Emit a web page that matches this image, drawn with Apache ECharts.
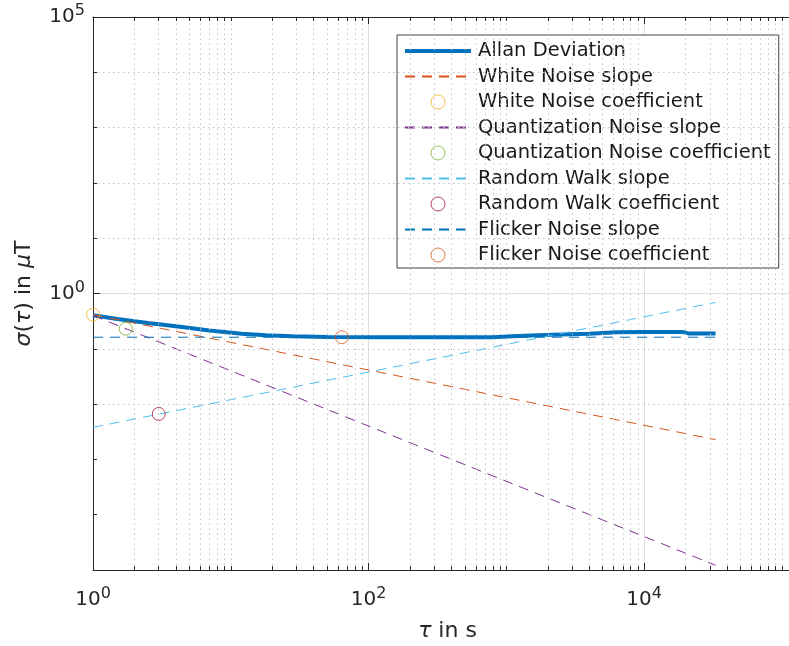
<!DOCTYPE html>
<html><head><meta charset="utf-8">
<script src="https://cdn.jsdelivr.net/npm/echarts@6/dist/echarts.min.js"></script>
<style>html,body{margin:0;padding:0;background:#fff;}#c{width:789px;height:646px;}</style>
</head><body><div id="c"></div>
<script>
const FONT = 'DejaVu Sans';
// Allan deviation curve
const tau = [1, 1.5, 2.5, 4, 7, 12, 18, 28, 50, 120, 400, 800, 1100, 1700, 2500, 4000, 6300, 10000, 19000, 21000, 33000];
const allanDev = [0.405, 0.345, 0.292, 0.256, 0.215, 0.187, 0.176, 0.168, 0.163, 0.161, 0.161, 0.162, 0.168, 0.176, 0.182, 0.188, 0.2, 0.202, 0.202, 0.19, 0.19];
// slope lines (endpoints)
const slopeTau = [1, 33000];
const whiteSlope = [0.413, 0.00228];
const quantSlope = [0.40, 1.22e-5];
const rwSlope = [0.0038, 0.689];
const flickerSlope = [0.162, 0.162];
// coefficients [tau, value]
const whiteCoef = [1, 0.413];
const quantCoef = [1.73, 0.2307];
const rwCoef = [3, 0.00664];
const flickerCoef = [64, 0.162];
// tick labels (exponents)
const xTickExp = [0, 2, 4];
const yTickExp = [0, 5];
const xMin = 1, xMax = 1.4e5, yMin = 1e-5, yMax = 1e5;

const C = {
  blue: '#0072BD', orange: '#D95319', yellow: '#EDB120', purple: '#7E2F8E',
  green: '#77AC30', cyan: '#4DBEEE', red: '#A2142F'
};
const AX = '#262626';

const zip = (a, b) => a.map((v, i) => [v, b[i]]);

// minor gridlines / ticks
const xMinor = [];
for (let k = 0; k <= 5; k++) {
  for (let m = 1; m <= 9; m++) {
    if (m === 1 && k % 2 === 0) continue;
    const v = m * Math.pow(10, k);
    if (v < xMax) xMinor.push(v);
  }
}
const yMinorExp = [-4, -3, -2, -1, 1, 2, 3, 4];
const pxDecY = 553 / 10, pxDecX = 709 / Math.log10(xMax);
const tl = 4;
const gridMinor = [];
xMinor.forEach(v => gridMinor.push({ xAxis: v }));
yMinorExp.forEach(e => gridMinor.push({ yAxis: Math.pow(10, e) }));
const tickMinor = [];
xMinor.forEach(v => {
  tickMinor.push([{ coord: [v, yMin] }, { coord: [v, Math.pow(10, -5 + tl / pxDecY)] }]);
  tickMinor.push([{ coord: [v, Math.pow(10, 5 - tl / pxDecY)] }, { coord: [v, yMax] }]);
});
yMinorExp.forEach(e => {
  tickMinor.push([{ coord: [xMin, Math.pow(10, e)] }, { coord: [Math.pow(10, tl / pxDecX), Math.pow(10, e)] }]);
});

const labelFmt = (list) => (v) => {
  const e = Math.log10(v), r = Math.round(e);
  if (Math.abs(e - r) > 1e-6 || list.indexOf(r) < 0) return '';
  return '{b|10}{s|' + r + '}';
};
const rich = {
  b: { fontSize: 20, fontFamily: FONT, color: AX },
  s: { fontSize: 16, fontFamily: FONT, color: AX, padding: [0, 0, 12, 0] }
};

const dashed = (color) => ({ color, width: 1, type: [10, 7] });
const circ = (color) => ({ color: 'transparent', borderColor: color, borderWidth: 1 });
const lineItem = (name, width) => ({ name, itemStyle: { opacity: 0, color: 'transparent', borderWidth: 0 },
  lineStyle: width ? { width } : undefined });

const chart = echarts.init(document.getElementById('c'));
chart.setOption({
  animation: false,
  backgroundColor: '#fff',
  grid: { left: 93, top: 17, width: 709, height: 553, containLabel: false, outerBoundsMode: 'none' },
  xAxis: [{
    type: 'log', logBase: 10, min: xMin, max: xMax, interval: 2,
    position: 'bottom',
    name: '{g|τ} in s', nameLocation: 'middle', nameGap: 50,
    nameTextStyle: { fontFamily: FONT, fontSize: 22, color: AX,
      rich: { g: { fontFamily: FONT, fontSize: 22, fontStyle: 'italic', color: AX } } },
    axisLine: { show: true, lineStyle: { color: AX, width: 1 } },
    axisTick: { show: true, inside: true, length: 7, lineStyle: { color: AX } },
    axisLabel: { formatter: labelFmt(xTickExp), rich, margin: 16 },
    splitLine: { show: true, lineStyle: { color: '#dedede', width: 1 } }
  }, {
    type: 'log', logBase: 10, min: xMin, max: xMax, interval: 2,
    position: 'top',
    axisLine: { show: true, lineStyle: { color: AX, width: 1 } },
    axisTick: { show: true, inside: true, length: 7, lineStyle: { color: AX } },
    axisLabel: { show: false },
    splitLine: { show: false }
  }],
  yAxis: {
    type: 'log', logBase: 10, min: yMin, max: yMax, interval: 5,
    name: '{g|σ}({g|τ}) in {g|μ}T', nameLocation: 'middle', nameGap: 58,
    nameTextStyle: { fontFamily: FONT, fontSize: 22, color: AX,
      rich: { g: { fontFamily: FONT, fontSize: 22, fontStyle: 'italic', color: AX } } },
    axisLine: { show: true, lineStyle: { color: AX, width: 1 } },
    axisTick: { show: true, inside: true, length: 7, lineStyle: { color: AX } },
    axisLabel: { formatter: labelFmt(yTickExp), rich, margin: 8 },
    splitLine: { show: true, lineStyle: { color: '#dedede', width: 1 } }
  },
  legend: {
    orient: 'vertical', left: 397, top: 35,
    padding: [6, 8, 3, 6],
    itemWidth: 66, itemHeight: 14, itemGap: 5.5,
    backgroundColor: '#fff', borderColor: '#404040', borderWidth: 1,
    textStyle: { fontFamily: FONT, fontSize: 19.5, color: '#1a1a1a', lineHeight: 20, padding: [0, 0, 0, 2] },
    data: [
      lineItem('Allan Deviation', 4), lineItem('White Noise slope'),
      { name: 'White Noise coefficient', itemStyle: circ(C.yellow) },
      lineItem('Quantization Noise slope'),
      { name: 'Quantization Noise coefficient', itemStyle: circ(C.green) },
      lineItem('Random Walk slope'),
      { name: 'Random Walk coefficient', itemStyle: circ(C.red) },
      lineItem('Flicker Noise slope'),
      { name: 'Flicker Noise coefficient', itemStyle: circ(C.orange) }
    ]
  },
  series: [
    { type: 'line', name: '_grid', data: [], z: 1, silent: true,
      markLine: { silent: true, symbol: ['none', 'none'], label: { show: false },
        lineStyle: { color: '#c4c4c4', width: 1, type: [1.5, 3.5] }, data: gridMinor } },
    { type: 'line', name: '_ticks', data: [], z: 1, silent: true,
      markLine: { silent: true, symbol: ['none', 'none'], label: { show: false },
        lineStyle: { color: AX, width: 1, type: 'solid' }, data: tickMinor } },
    { type: 'line', name: 'Allan Deviation', data: zip(tau, allanDev), symbol: 'none', z: 3,
      lineStyle: { color: C.blue, width: 4 }, itemStyle: { color: C.blue } },
    { type: 'line', name: 'White Noise slope', data: zip(slopeTau, whiteSlope), symbol: 'none', z: 4,
      lineStyle: dashed(C.orange), itemStyle: { color: C.orange } },
    { type: 'scatter', name: 'White Noise coefficient', data: [whiteCoef], symbol: 'circle', symbolSize: 13, z: 5,
      itemStyle: circ(C.yellow) },
    { type: 'line', name: 'Quantization Noise slope', data: zip(slopeTau, quantSlope), symbol: 'none', z: 4,
      lineStyle: dashed(C.purple), itemStyle: { color: C.purple } },
    { type: 'scatter', name: 'Quantization Noise coefficient', data: [quantCoef], symbol: 'circle', symbolSize: 13, z: 5,
      itemStyle: circ(C.green) },
    { type: 'line', name: 'Random Walk slope', data: zip(slopeTau, rwSlope), symbol: 'none', z: 4,
      lineStyle: dashed(C.cyan), itemStyle: { color: C.cyan } },
    { type: 'scatter', name: 'Random Walk coefficient', data: [rwCoef], symbol: 'circle', symbolSize: 13, z: 5,
      itemStyle: circ(C.red) },
    { type: 'line', name: 'Flicker Noise slope', data: zip(slopeTau, flickerSlope), symbol: 'none', z: 4,
      lineStyle: dashed(C.blue), itemStyle: { color: C.blue } },
    { type: 'scatter', name: 'Flicker Noise coefficient', data: [flickerCoef], symbol: 'circle', symbolSize: 13, z: 5,
      itemStyle: circ(C.orange) }
  ]
});
</script></body></html>
